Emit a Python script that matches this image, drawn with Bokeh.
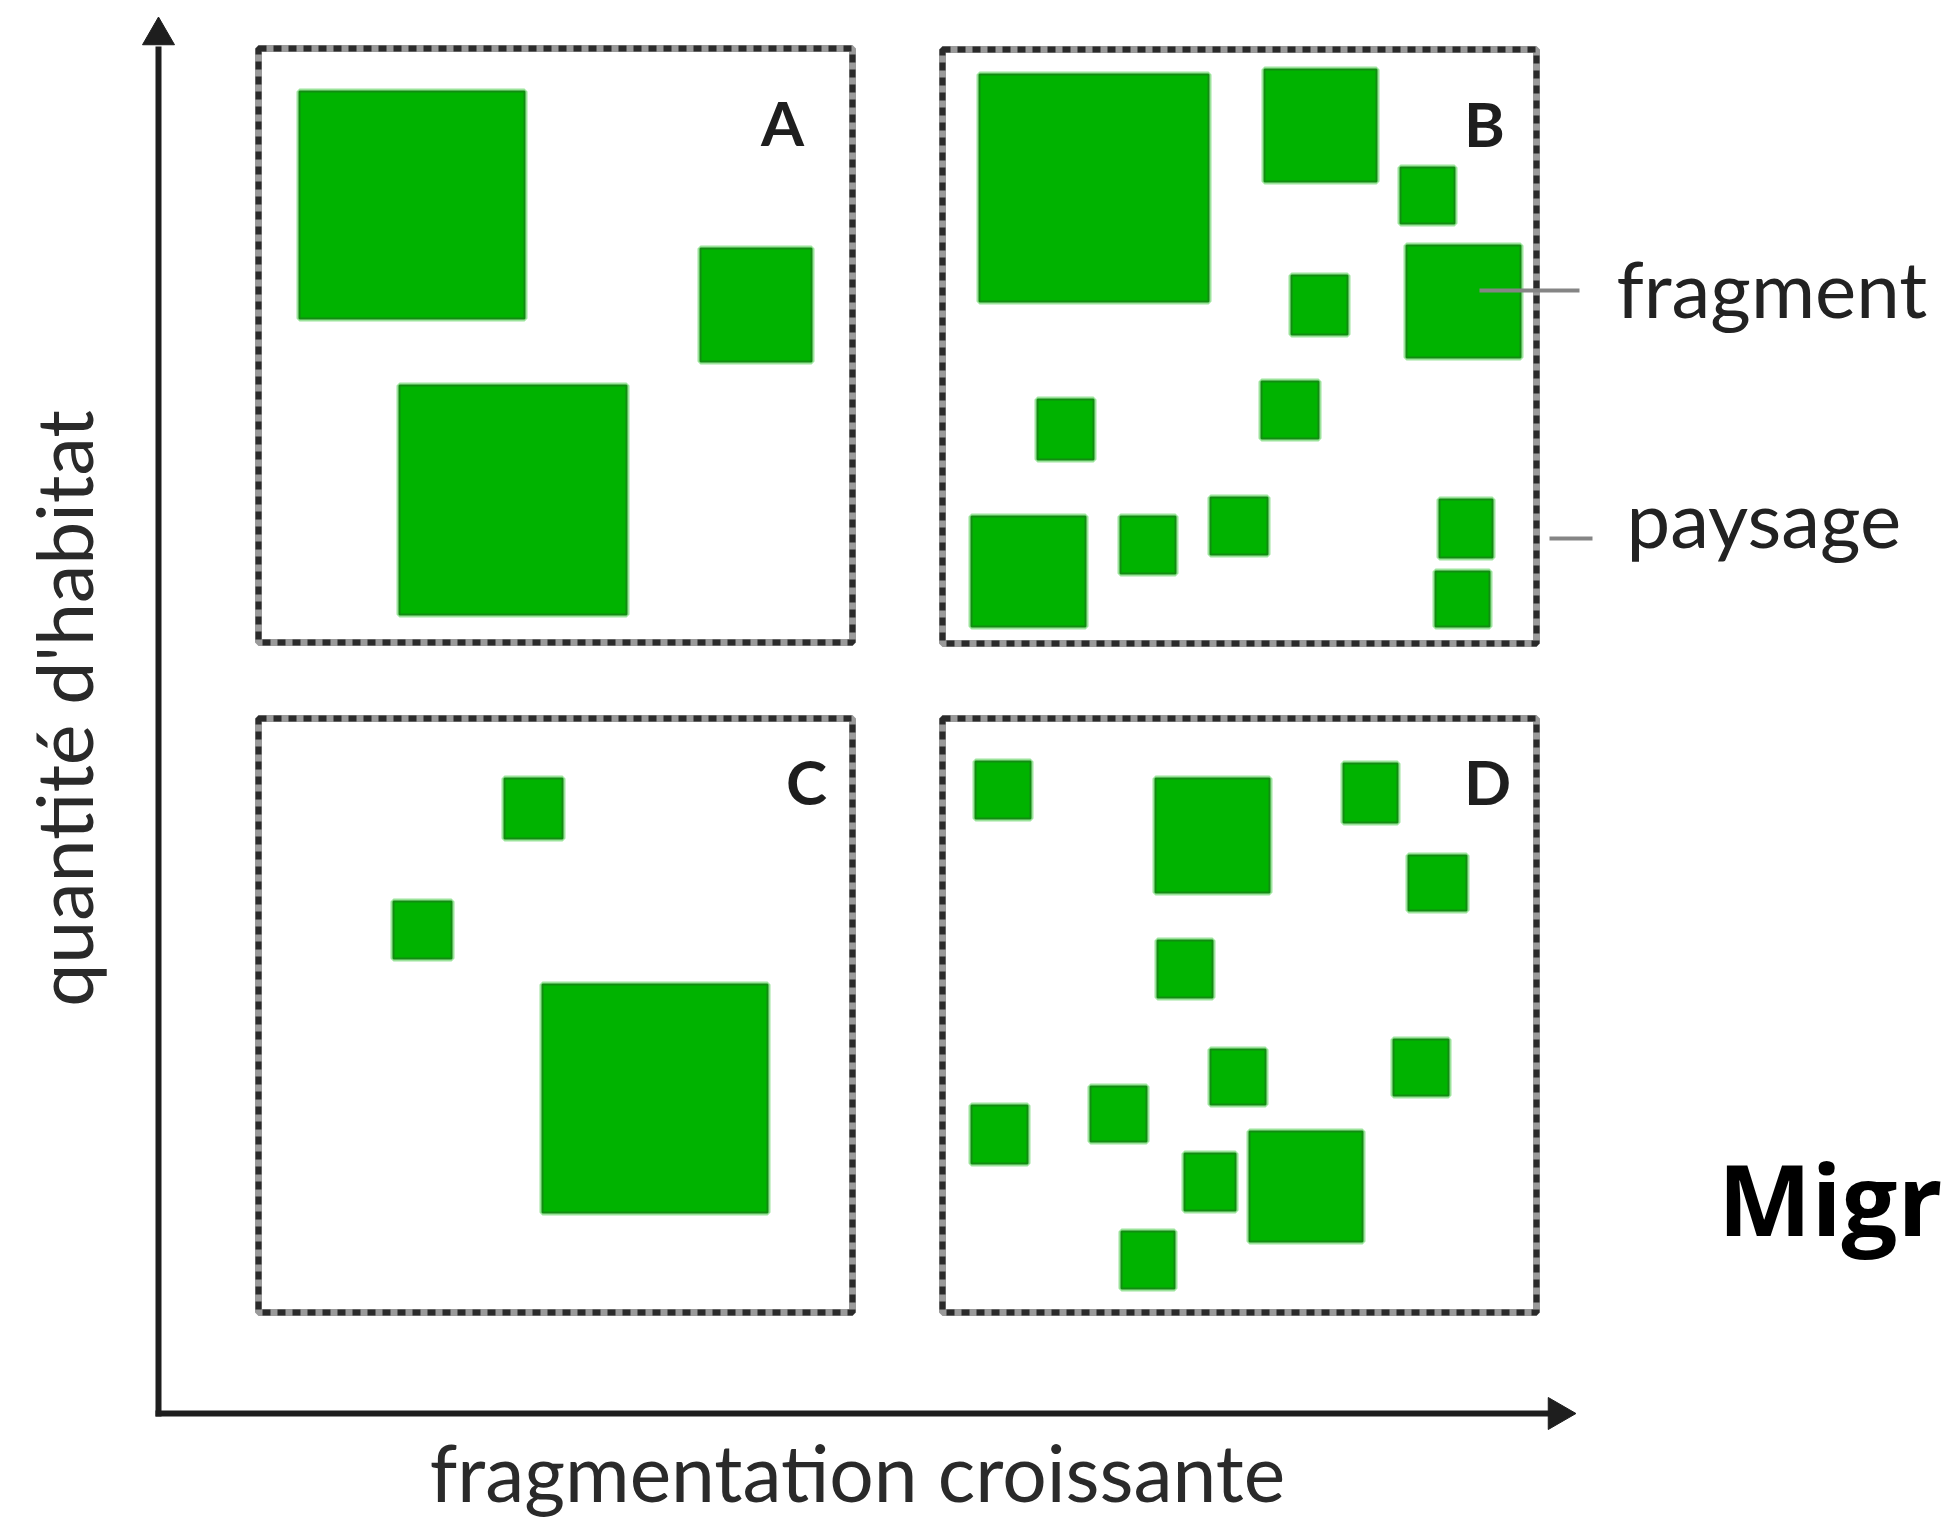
import math
from bokeh.plotting import figure
from bokeh.models import Range1d, ColumnDataSource, Label
from bokeh.core.properties import value
from bokeh.embed import file_html
from bokeh.resources import INLINE

# ---------------- data: fragments (panel-relative px: left, top, width, height) ----------------
panel_names = ["A", "B", "C", "D"]

A_left = [41, 442, 141]
A_top = [43, 200, 337]
A_w = [225, 111, 227]
A_h = [227, 113, 229]

B_left = [37, 322, 458, 464, 349, 319, 95, 29, 178, 268, 497, 493]
B_top = [25, 20, 118, 196, 226, 332, 350, 467, 467, 448, 450, 522]
B_w = [229, 112, 54, 114, 56, 57, 56, 114, 55, 57, 53, 54]
B_h = [227, 112, 56, 112, 59, 57, 60, 110, 57, 57, 58, 55]

C_left = [246, 135, 284]
C_top = [60, 183, 266]
C_w = [58, 58, 225]
C_h = [60, 57, 228]

D_left = [33, 213, 401, 466, 215, 268, 451, 148, 29, 242, 307, 179]
D_top = [43, 60, 45, 137, 222, 331, 321, 368, 387, 435, 413, 513]
D_w = [55, 114, 54, 58, 55, 55, 55, 56, 56, 51, 113, 53]
D_h = [57, 114, 59, 55, 57, 55, 56, 55, 58, 57, 110, 57]

x_axis_label = "fragmentation croissante"
y_axis_label = "quantité d'habitat"
callout_labels = ["fragment", "paysage"]
side_title = "Migr"

# ---------------- layout (page body has no margin: the figure fills the window) ----------------
W, H = 1944, 1517
p = figure(width=W, height=H, x_range=Range1d(0, W), y_range=Range1d(H, 0),
           output_backend="svg", toolbar_location=None, min_border=0,
           x_axis_type=None, y_axis_type=None, background_fill_color="white",
           border_fill_color="white", outline_line_color=None)
p.xgrid.visible = False
p.ygrid.visible = False

PANEL = 594
origins = {"A": (258, 48), "B": (942, 49), "C": (258, 718), "D": (942, 718)}
frags = {"A": (A_left, A_top, A_w, A_h), "B": (B_left, B_top, B_w, B_h),
         "C": (C_left, C_top, C_w, C_h), "D": (D_left, D_top, D_w, D_h)}
label_pos = {"A": (524, 73), "B": (542, 73), "C": (548, 62), "D": (545, 62)}

# panel frames (dotted)
fl, fr, ft, fb = [], [], [], []
for n in panel_names:
    ox, oy = origins[n]
    fl.append(ox); fr.append(ox + PANEL); ft.append(oy); fb.append(oy + PANEL)
p.quad(left=fl, right=fr, top=ft, bottom=fb, fill_color=None,
       line_color="#9a9a9a", line_width=7)
p.quad(left=fl, right=fr, top=ft, bottom=fb, fill_color=None,
       line_color="#2a2a2a", line_width=6, line_dash="8 7")

# fragments
L, R, T, B = [], [], [], []
for n in panel_names:
    ox, oy = origins[n]
    ls, ts, ws, hs = frags[n]
    for l, t, w, h in zip(ls, ts, ws, hs):
        L.append(ox + l); R.append(ox + l + w); T.append(oy + t); B.append(oy + t + h)
src = ColumnDataSource(dict(left=L, right=R, top=T, bottom=B))
p.quad(left="left", right="right", top="top", bottom="bottom", source=src,
       fill_color=None, line_color="#9be39b", line_width=6)
p.quad(left="left", right="right", top="top", bottom="bottom", source=src,
       fill_color="#00b300", line_color="#128c12", line_width=2)

# panel letters
lx = [origins[n][0] + label_pos[n][0] for n in panel_names]
ly = [origins[n][1] + label_pos[n][1] for n in panel_names]
p.text(x=lx, y=ly, text=panel_names, text_font=value("Lato"), text_font_style="bold",
       text_font_size=value("62px"), text_color="#1e1e1e", text_align="center",
       text_baseline="middle")

# axes (lines + arrow heads)
AX_X, AX_Y = 158, 1413
p.segment(x0=[AX_X, AX_X - 3], y0=[AX_Y + 3, AX_Y], x1=[AX_X, 1550], y1=[46, AX_Y],
          line_color="#1e1e1e", line_width=6)
p.scatter(x=[AX_X], y=[35], marker="triangle", size=32, angle=0,
          fill_color="#1e1e1e", line_color="#1e1e1e")
p.scatter(x=[1557], y=[AX_Y], marker="triangle", size=32, angle=-math.pi / 2,
          fill_color="#1e1e1e", line_color="#1e1e1e")

# axis titles
p.text(x=[857], y=[1471], text=[x_axis_label], text_font=value("Lato"),
       text_font_size=value("78.5px"), text_color="#2a2a2a", text_align="center",
       text_baseline="middle")
p.text(x=[62], y=[708], text=[y_axis_label], text_font=value("Lato"),
       text_font_size=value("77px"), text_color="#2a2a2a", text_align="center",
       text_baseline="middle", angle=math.pi / 2)

# callouts
p.segment(x0=[1479, 1549], y0=[290, 538], x1=[1579, 1592], y1=[290, 538],
          line_color="#858585", line_width=4)
p.text(x=[1616, 1626], y=[287, 517], text=callout_labels, text_font=value("Lato"),
       text_font_size=value("78px"), text_color="#222222", text_align="left",
       text_baseline="middle")

# side title (cut at the right edge in the reference) - drawn last as an annotation
p.add_layout(Label(x=1942, y=1197, text=side_title, text_font="Open Sans",
                   text_font_style="bold", text_font_size="99px", text_color="#000000",
                   text_align="right", text_baseline="middle"))

open("out.html", "w").write(file_html(p, INLINE))
